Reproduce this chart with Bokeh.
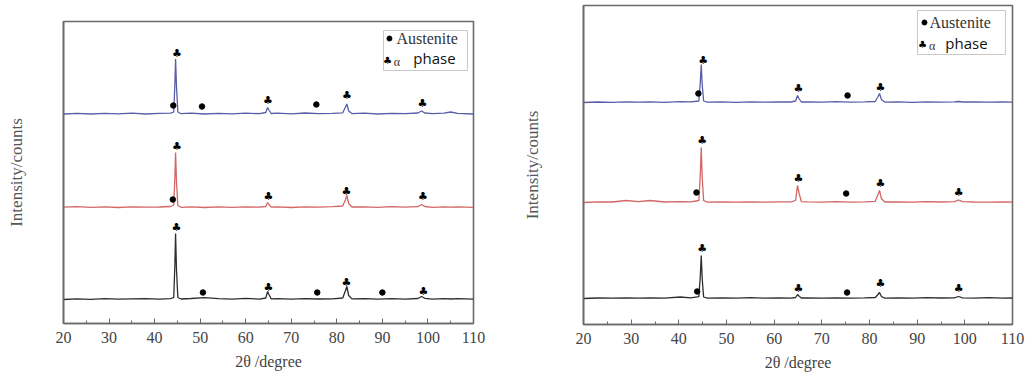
from bokeh.plotting import figure
from bokeh.layouts import row, column
from bokeh.models import Range1d, Label, FixedTicker, Spacer
from bokeh.core.properties import value
from bokeh.embed import file_html
from bokeh.resources import INLINE

# ---------------- data ----------------
major_ticks = [20, 30, 40, 50, 60, 70, 80, 90, 100, 110]
minor_ticks = [25, 35, 45, 55, 65, 75, 85, 95, 105]
sample_names = ["1#", "2#", "3#"]
series_colors = ["#5a5ea8", "#d46666", "#2e2e2e"]

# left panel: 2-theta grid and intensities above each trace's baseline
LX = [20, 23, 26, 29, 32, 35, 38, 41, 43.5, 44.2, 44.45, 44.6, 44.8, 45.1, 45.8,
      48, 51, 54, 57, 60, 63, 64.4, 64.8, 65.1, 65.6, 67, 70, 73, 76, 79,
      81.3, 81.9, 82.2, 82.6, 83.3, 86, 89, 92, 95, 97.8, 98.6, 99.3,
      101, 103.5, 105, 106.5, 110]
L1 = [0, 0.6, 0, 0.7, 0.2, 0.8, 0, 0.6, 0.8, 2, 30, 55, 28, 2, 0.3,
      0.8, 0, 0.7, 0.2, 0.8, 0.3, 1.5, 6.5, 4, 0.5, 0.8, 0.2, 1, 0.3, 0.7,
      1.2, 7, 10, 3, 0.4, 0.8, 0, 0.7, 0.3, 1, 3, 1, 0.3, 0.8, 2, 0.6, 0]
L2 = [0.3, 0.8, 0.2, 0.6, 0, 0.7, 0.3, 0.5, 1, 2.5, 30, 55, 26, 2, 0.2,
      0.6, 0, 0.7, 0.2, 0.6, 0.3, 1, 5, 3, 0.4, 0.7, 0, 0.6, 0.3, 0.8,
      1.5, 8, 12, 4, 0.5, 0.7, 0.2, 0.8, 0.3, 0.8, 3, 1, 0.2, 0.6, 0.3, 0.7, 0.2]
L3 = [0, 0.6, 0.2, 0.8, 0.3, 0.6, 0.9, 0.4, 0.8, 2, 35, 66, 30, 2, 0.5,
      1, 1.8, 0.8, 0.4, 1.2, 0.4, 1.5, 8, 5, 0.6, 0.8, 0.3, 0.9, 0.5, 0.6,
      1.5, 9, 13, 4, 0.6, 0.8, 0.3, 0.9, 0.4, 1, 3, 1.2, 0.4, 0.9, 0.5, 0.8, 0.3]
L_offsets = [209.5, 116, 24]

# left panel peak markers (2-theta, height above baseline)
L_aus_x = [[44.1, 50.4, 75.5], [44.0], [50.6, 75.7, 90.0]]
L_aus_h = [[8.5, 7.5, 9.5], [8], [7, 7, 7]]
L_alp_x = [[44.9, 64.9, 82.2, 98.8], [44.9, 65.0, 82.1, 98.9], [44.8, 65.0, 82.1, 99.0]]
L_alp_h = [[60.5, 13.5, 18.5, 10.5], [61, 11, 16, 11], [72, 12, 17, 8]]

# right panel
RX = [20, 23, 26, 29, 31.5, 34, 37, 40.3, 42.5, 44.2, 44.5, 44.7, 44.9, 45.2, 46,
      49, 52, 55, 58, 61, 63.5, 64.5, 64.9, 65.2, 65.7, 67, 70, 73, 76, 79,
      81.2, 81.8, 82.1, 82.5, 83.2, 86, 89, 92, 95, 97.8, 98.7, 99.5,
      102, 105, 108, 110]
R1 = [0, 0.5, 0.2, 0.7, 0.3, 0.6, 0.2, 0.8, 0.6, 1.5, 20, 38, 18, 1.5, 0.3,
      0.6, 0.2, 0.7, 0.3, 0.6, 0.5, 1.5, 7, 4, 0.5, 0.7, 0.3, 0.8, 0.4, 0.6,
      1, 6, 9, 3, 0.4, 0.6, 0.2, 0.7, 0.3, 0.6, 1, 0.5, 0.6, 0.3, 0.7, 0.4]
R2 = [0, 0.6, 0.5, 2, 0.8, 2, 0.5, 0.8, 0.7, 2, 28, 55, 25, 2, 0.4,
      0.6, 0.3, 0.7, 0.4, 0.6, 0.6, 2, 17, 10, 0.8, 0.6, 0.3, 0.8, 0.4, 0.7,
      1.2, 8, 12, 4, 0.5, 0.6, 0.3, 0.8, 0.5, 0.8, 2.5, 0.8, 0.5, 0.3, 0.6, 0.3]
R3 = [0, 0.5, 0.3, 0.6, 0.3, 0.7, 0.4, 1.5, 0.6, 1.8, 22, 43, 20, 1.5, 0.4,
      0.7, 0.3, 0.8, 0.4, 0.7, 0.4, 1, 4, 2.5, 0.5, 0.7, 0.3, 0.6, 0.4, 0.7,
      1, 4, 6, 2, 0.4, 0.6, 0.3, 0.9, 0.5, 0.7, 2, 0.7, 0.4, 0.8, 0.3, 0.5]
R_offsets = [222, 122, 26]

R_aus_x = [[44.1, 75.4], [43.7, 75.1], [43.85, 75.3]]
R_aus_h = [[9, 7], [10, 9], [7, 6]]
R_alp_x = [[45.1, 65.1, 82.3], [44.9, 65.1, 82.3, 98.7], [44.9, 65.1, 82.3, 98.7]]
R_alp_h = [[42, 14, 15], [62, 24, 19, 10], [50, 10, 15, 10]]

SERIF = "Liberation Serif"
GRAY = "#6a6a6a"
TXT = "#444444"


def make_panel(xs, ys, offsets, aus_x, aus_h, alp_x, alp_h, y_end,
               fw, fh, bl, br, bt, bb, ylab_standoff, legend, label_x, label_y, label_size):
    p = figure(frame_width=fw, frame_height=fh, min_border_left=bl, min_border_right=br,
               min_border_top=bt, min_border_bottom=bb,
               x_range=Range1d(20, 110), y_range=Range1d(0, y_end),
               output_backend="svg", toolbar_location=None, tools="")
    p.background_fill_color = "white"
    p.border_fill_color = "white"
    p.outline_line_color = GRAY
    p.outline_line_width = 1.6
    p.grid.visible = False

    xa = p.xaxis[0]
    xa.ticker = FixedTicker(ticks=major_ticks, minor_ticks=minor_ticks)
    xa.major_tick_in = 5
    xa.major_tick_out = 0
    xa.minor_tick_in = 3
    xa.minor_tick_out = 0
    xa.major_tick_line_color = GRAY
    xa.minor_tick_line_color = GRAY
    xa.axis_line_color = GRAY
    xa.axis_line_width = 1.6
    xa.major_label_text_font = SERIF
    xa.major_label_text_font_size = "16px"
    xa.major_label_text_color = TXT
    xa.major_label_standoff = 8
    xa.axis_label = "2θ /degree"
    xa.axis_label_text_font = SERIF
    xa.axis_label_text_font_size = "16px"
    xa.axis_label_text_font_style = "normal"
    xa.axis_label_text_color = TXT
    xa.axis_label_standoff = 7

    ya = p.yaxis[0]
    ya.ticker = FixedTicker(ticks=[])
    ya.major_tick_line_color = None
    ya.minor_tick_line_color = None
    ya.major_label_text_font_size = "0px"
    ya.axis_line_color = GRAY
    ya.axis_line_width = 1.6
    ya.axis_label = "Intensity/counts"
    ya.axis_label_text_font = SERIF
    ya.axis_label_text_font_size = "17px"
    ya.axis_label_text_font_style = "normal"
    ya.axis_label_text_color = "#555555"
    ya.axis_label_standoff = ylab_standoff

    for i in range(3):
        yy = [v + offsets[i] for v in ys[i]]
        p.line(xs, yy, line_color=series_colors[i], line_width=1.3)
        p.scatter(aus_x[i], [h + offsets[i] for h in aus_h[i]], marker="circle",
                  size=5.5, fill_color="black", line_color="black")
        p.text(alp_x[i], [h + offsets[i] for h in alp_h[i]], text=["♣"] * len(alp_x[i]),
               text_font=value("DejaVu Sans"), text_font_size="11px", text_color="black",
               text_align="center", text_baseline="middle")
        p.add_layout(Label(x=label_x, y=label_y[i], text=sample_names[i],
                           text_font=SERIF, text_font_size=label_size, text_color="#666666",
                           text_baseline="middle", text_align="left"))

    # legend box
    (bx0, bx1, by0, by1, dx, dy, tx, ax, ay, phx, phy) = legend
    p.quad(left=[bx0], right=[bx1], bottom=[by0], top=[by1], fill_color="white",
           line_color="#c8c8c8", line_width=1)
    p.scatter([dx], [dy], marker="circle", size=5, fill_color="black", line_color="black")
    p.text([tx], [dy], text=["Austenite"], text_font=value(SERIF), text_font_size="16px",
           text_color="#333333", text_baseline="middle", text_align="left")
    p.text([ax], [ay], text=["♣"], text_font=value("DejaVu Sans"), text_font_size="10px",
           text_color="black", text_align="center", text_baseline="middle")
    p.text([ax + 1.4], [ay - 1], text=["α"], text_font=value(SERIF), text_font_size="12px",
           text_color="#333333", text_baseline="middle", text_align="left")
    p.text([phx], [phy], text=["phase"], text_font=value("Open Sans"), text_font_size="15px",
           text_color="#111111", text_baseline="middle", text_align="left")
    return p


left = make_panel(LX, [L1, L2, L3], L_offsets, L_aus_x, L_aus_h, L_alp_x, L_alp_h, 302,
                  410, 302, 63, 42, 5, 49, 38,
                  (90.24, 108.67, 253, 293, 91.55, 285, 93.1, 91.1, 263, 96.8, 266),
                  112.5, [223, 132, 38], "15px")
right = make_panel(RX, [R1, R2, R3], R_offsets, R_aus_x, R_aus_h, R_alp_x, R_alp_h, 319,
                   429, 319, 68, 20, 5, 48, 42,
                   (90.07, 108.53, 270, 314, 91.53, 302, 92.6, 91.1, 280, 95.9, 282),
                   110.9, [237, 137, 39], "14px")

layout = row(column(Spacer(width=515, height=16), left), right)
open("out.html", "w").write(file_html(layout, INLINE))
